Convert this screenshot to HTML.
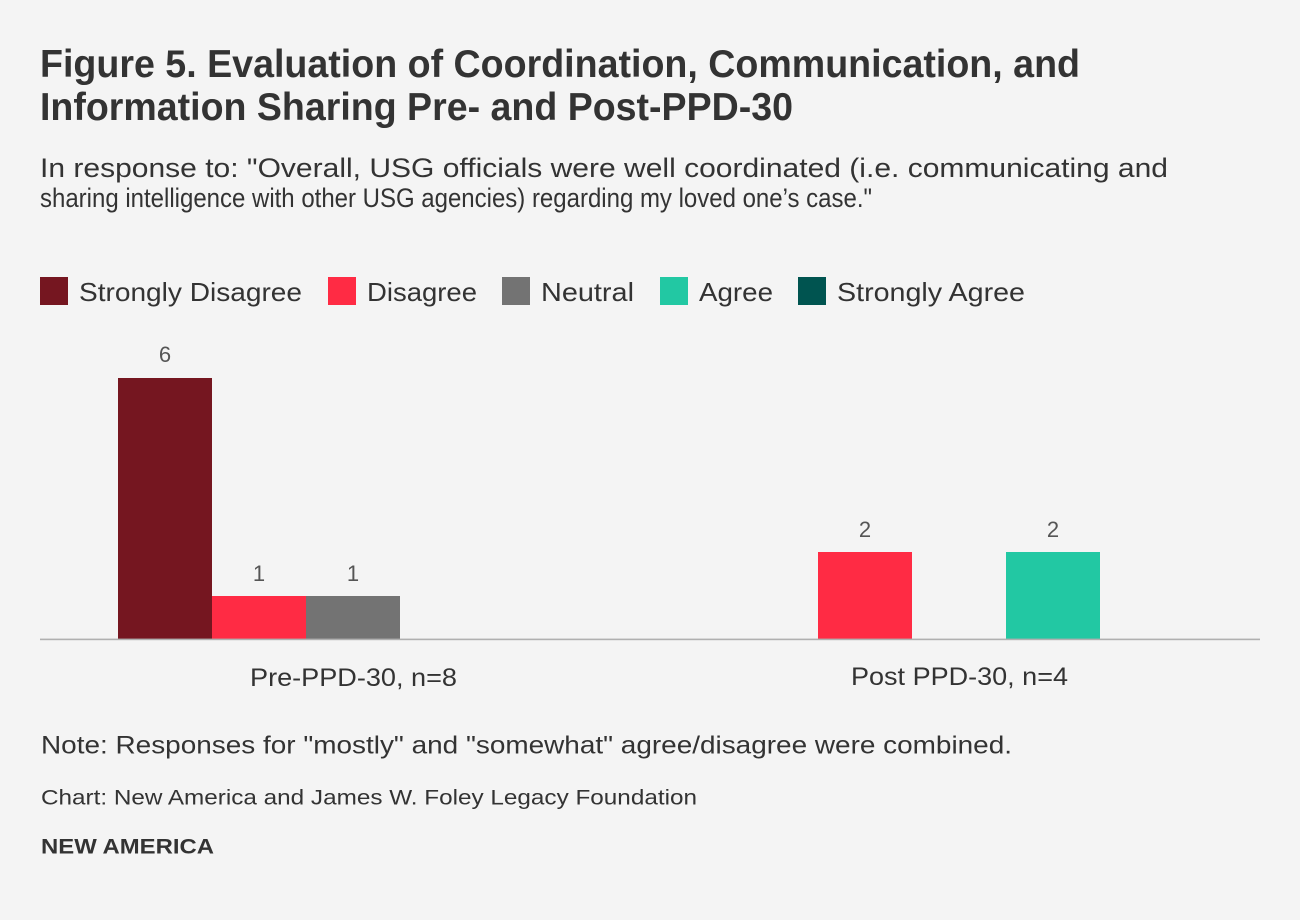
<!DOCTYPE html>
<html>
<head>
<meta charset="utf-8">
<style>
html,body{margin:0;padding:0;background:#f4f4f4;}
svg{display:block;}
text{font-family:"Liberation Sans",Arial,sans-serif;}
</style>
</head>
<body>
<svg width="1300" height="920" viewBox="0 0 1300 920" xmlns="http://www.w3.org/2000/svg">
<rect x="0" y="0" width="1300" height="920" fill="#f4f4f4"/>
<!-- Title -->
<text x="40" y="77" font-size="39" font-weight="bold" fill="#333333" textLength="1040" lengthAdjust="spacingAndGlyphs">Figure 5. Evaluation of Coordination, Communication, and</text>
<text x="40" y="120" font-size="39" font-weight="bold" fill="#333333" textLength="753" lengthAdjust="spacingAndGlyphs">Information Sharing Pre- and Post-PPD-30</text>
<!-- Subtitle -->
<text x="40" y="177" font-size="27" fill="#333333" textLength="1128" lengthAdjust="spacingAndGlyphs">In response to: "Overall, USG officials were well coordinated (i.e. communicating and</text>
<text x="40" y="207" font-size="27" fill="#333333" textLength="832" lengthAdjust="spacingAndGlyphs">sharing intelligence with other USG agencies) regarding my loved one’s case."</text>
<!-- Legend -->
<rect x="40" y="277" width="28" height="28" fill="#751620"/>
<text x="79" y="301" font-size="26" fill="#333333" textLength="223" lengthAdjust="spacingAndGlyphs">Strongly Disagree</text>
<rect x="328" y="277" width="28" height="28" fill="#ff2b44"/>
<text x="367" y="301" font-size="26" fill="#333333" textLength="110" lengthAdjust="spacingAndGlyphs">Disagree</text>
<rect x="502" y="277" width="28" height="28" fill="#737373"/>
<text x="541" y="301" font-size="26" fill="#333333" textLength="93" lengthAdjust="spacingAndGlyphs">Neutral</text>
<rect x="660" y="277" width="28" height="28" fill="#22c8a3"/>
<text x="699" y="301" font-size="26" fill="#333333" textLength="74" lengthAdjust="spacingAndGlyphs">Agree</text>
<rect x="798" y="277" width="28" height="28" fill="#005450"/>
<text x="837" y="301" font-size="26" fill="#333333" textLength="188" lengthAdjust="spacingAndGlyphs">Strongly Agree</text>
<!-- Bars -->
<rect x="118" y="378" width="94" height="261.5" fill="#751620"/>
<rect x="212" y="596" width="94" height="43.5" fill="#ff2b44"/>
<rect x="306" y="596" width="94" height="43.5" fill="#737373"/>
<rect x="818" y="552" width="94" height="87.5" fill="#ff2b44"/>
<rect x="1006" y="552" width="94" height="87.5" fill="#22c8a3"/>
<!-- Axis -->
<rect x="40" y="638.6" width="1220" height="1.6" fill="#b0b0b0"/>
<!-- Value labels -->
<g font-size="22" fill="#555555" text-anchor="middle">
<text x="165" y="362">6</text>
<text x="259" y="581">1</text>
<text x="353" y="581">1</text>
<text x="865" y="537">2</text>
<text x="1053" y="537">2</text>
</g>
<!-- Category labels -->
<text x="250" y="686" font-size="25" fill="#333333" textLength="207" lengthAdjust="spacingAndGlyphs">Pre-PPD-30, n=8</text>
<text x="851" y="685" font-size="25" fill="#333333" textLength="217" lengthAdjust="spacingAndGlyphs">Post PPD-30, n=4</text>
<!-- Footer -->
<text x="41" y="753.5" font-size="25" fill="#333333" textLength="971" lengthAdjust="spacingAndGlyphs">Note: Responses for "mostly" and "somewhat" agree/disagree were combined.</text>
<text x="41" y="804.5" font-size="21" fill="#333333" textLength="656" lengthAdjust="spacingAndGlyphs">Chart: New America and James W. Foley Legacy Foundation</text>
<text x="41" y="853.5" font-size="21.5" font-weight="bold" fill="#333333" textLength="173" lengthAdjust="spacingAndGlyphs">NEW AMERICA</text>
</svg>
</body>
</html>
